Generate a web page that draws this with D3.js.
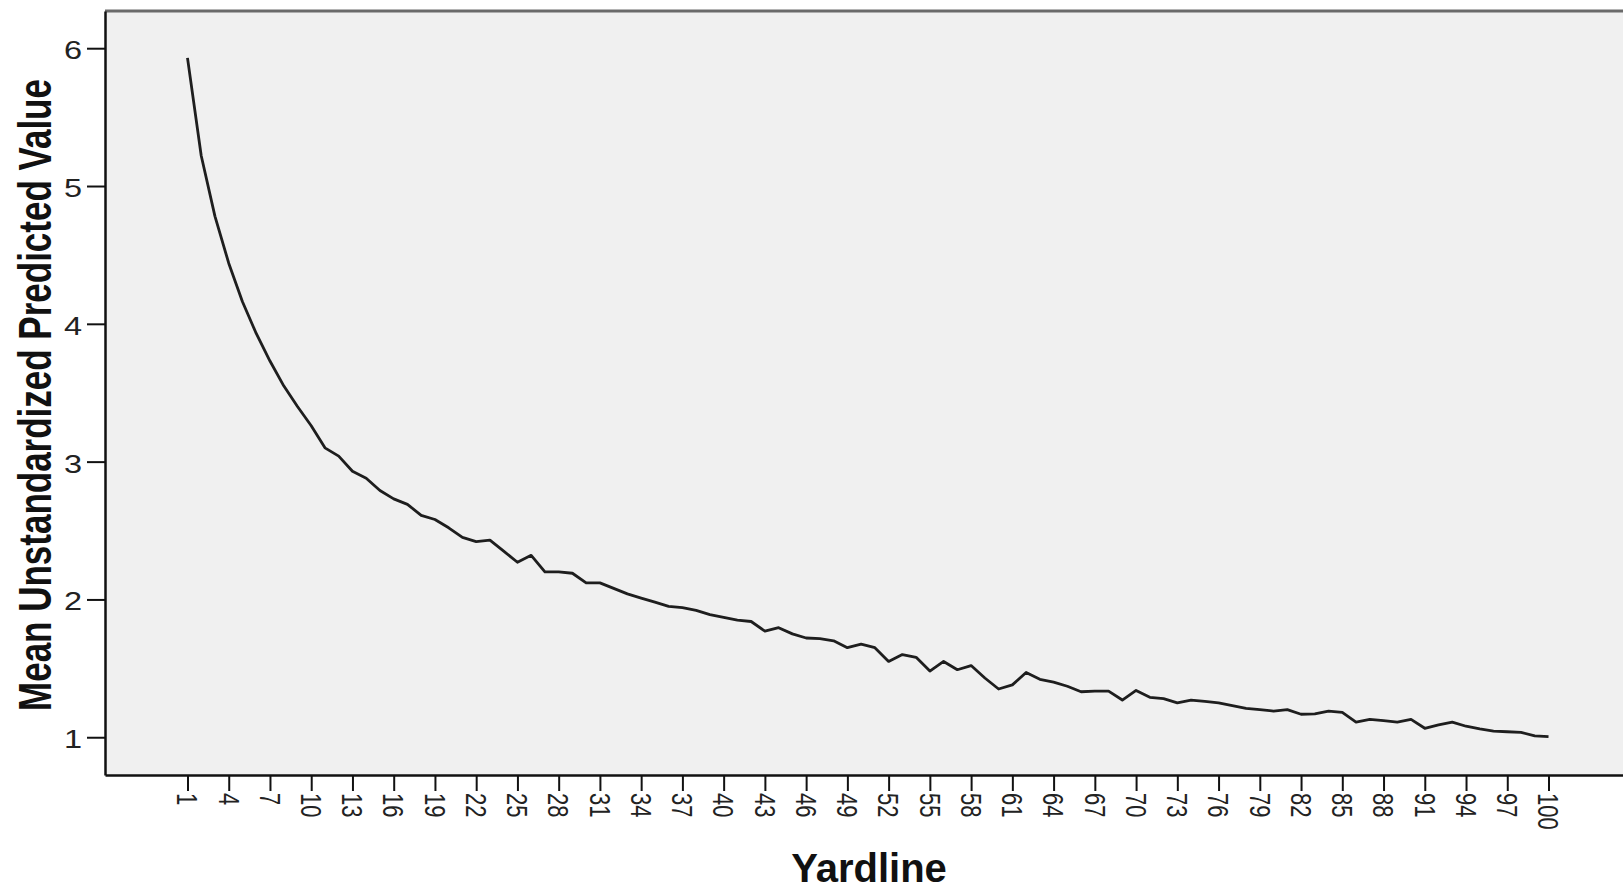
<!DOCTYPE html>
<html>
<head>
<meta charset="utf-8">
<script src="https://cdn.jsdelivr.net/npm/d3@7"></script>
<style>
  html, body { margin: 0; padding: 0; background: #ffffff; }
  svg { display: block; }
</style>
</head>
<body>
<svg id="chart" width="1623" height="889"></svg>
<script>
// ---- data ----
const yardlines = d3.range(1, 101);
const meanPredicted = [
  5.93, 5.22, 4.78, 4.44, 4.16, 3.93, 3.73, 3.55, 3.40, 3.26,
  3.10, 3.04, 2.93, 2.88, 2.79, 2.73, 2.69, 2.61, 2.58, 2.52,
  2.45, 2.42, 2.43, 2.35, 2.27, 2.32, 2.20, 2.20, 2.19, 2.12,
  2.12, 2.08, 2.04, 2.01, 1.98, 1.95, 1.94, 1.92, 1.89, 1.87,
  1.85, 1.84, 1.77, 1.795, 1.75, 1.72, 1.715, 1.70, 1.65, 1.675,
  1.65, 1.55, 1.60, 1.58, 1.48, 1.55, 1.49, 1.52, 1.43, 1.35,
  1.38, 1.47, 1.42, 1.40, 1.37, 1.33, 1.335, 1.335, 1.27, 1.34,
  1.29, 1.28, 1.25, 1.27, 1.26, 1.25, 1.23, 1.21, 1.20, 1.19,
  1.20, 1.167, 1.17, 1.19, 1.18, 1.11, 1.13, 1.12, 1.11, 1.13,
  1.065, 1.09, 1.11, 1.08, 1.06, 1.045, 1.04, 1.035, 1.01, 1.005
];
const xTickLabels = d3.range(1, 101, 3);
const yTickValues = [1, 2, 3, 4, 5, 6];
const xTitle = "Yardline";
const yTitle = "Mean Unstandardized Predicted Value";

// ---- layout ----
const plot = { left: 105, top: 11, right: 1631, bottom: 775 };
const svg = d3.select("#chart");
const font = "'Liberation Sans', Arial, sans-serif";

const x = d3.scalePoint().domain(yardlines).range([plot.left, plot.right]).padding(6);
const y = d3.scaleLinear().domain([0.726, 6.27]).range([plot.bottom, plot.top]);

// plot background
svg.append("rect")
  .attr("x", plot.left).attr("y", plot.top)
  .attr("width", plot.right - plot.left).attr("height", plot.bottom - plot.top)
  .attr("fill", "#f0f0f0");

// top border
svg.append("line")
  .attr("x1", plot.left).attr("x2", plot.right)
  .attr("y1", plot.top).attr("y2", plot.top)
  .attr("stroke", "#6a6a6a").attr("stroke-width", 3);

// line
const line = d3.line().x((d, i) => x(yardlines[i])).y(d => y(d));
svg.append("path")
  .datum(meanPredicted)
  .attr("d", line)
  .attr("fill", "none")
  .attr("stroke", "#1e1e1e")
  .attr("stroke-width", 2.8)
  .attr("stroke-linejoin", "round");

// y axis
const yAxis = svg.append("g")
  .attr("transform", `translate(${plot.left},0)`)
  .call(d3.axisLeft(y).tickValues(yTickValues).tickFormat(d3.format("d"))
    .tickSize(18).tickPadding(4).tickSizeOuter(0));
yAxis.select(".domain").attr("stroke", "#111").attr("stroke-width", 2.5);
yAxis.selectAll(".tick line").attr("stroke", "#111").attr("stroke-width", 2);
yAxis.selectAll(".tick text")
  .attr("font-family", font).attr("font-size", 25).attr("fill", "#222")
  .attr("x", 0).attr("dy", "0.42em")
  .attr("transform", "translate(-23,0) scale(1.3,1)");

// x axis
const xAxis = svg.append("g")
  .attr("transform", `translate(0,${plot.bottom})`)
  .call(d3.axisBottom(x).tickValues(xTickLabels).tickSize(16).tickSizeOuter(0));
xAxis.select(".domain").attr("stroke", "#111").attr("stroke-width", 2.5);
xAxis.selectAll(".tick line").attr("stroke", "#111").attr("stroke-width", 2);
xAxis.selectAll(".tick text")
  .attr("font-family", font).attr("font-size", 22).attr("fill", "#222")
  .attr("transform", "rotate(90) scale(1,1.35)")
  .attr("text-anchor", "start")
  .attr("x", 18).attr("y", 0).attr("dy", "0.36em");

// titles
svg.append("text")
  .attr("transform", "translate(869,882)")
  .attr("text-anchor", "middle")
  .attr("font-family", font).attr("font-weight", "bold").attr("font-size", 40)
  .attr("fill", "#111")
  .text(xTitle);

svg.append("text")
  .attr("transform", "translate(51,395) rotate(-90) scale(1,1.3)")
  .attr("text-anchor", "middle")
  .attr("font-family", font).attr("font-weight", "bold").attr("font-size", 35)
  .attr("fill", "#111")
  .text(yTitle);
</script>
</body>
</html>
